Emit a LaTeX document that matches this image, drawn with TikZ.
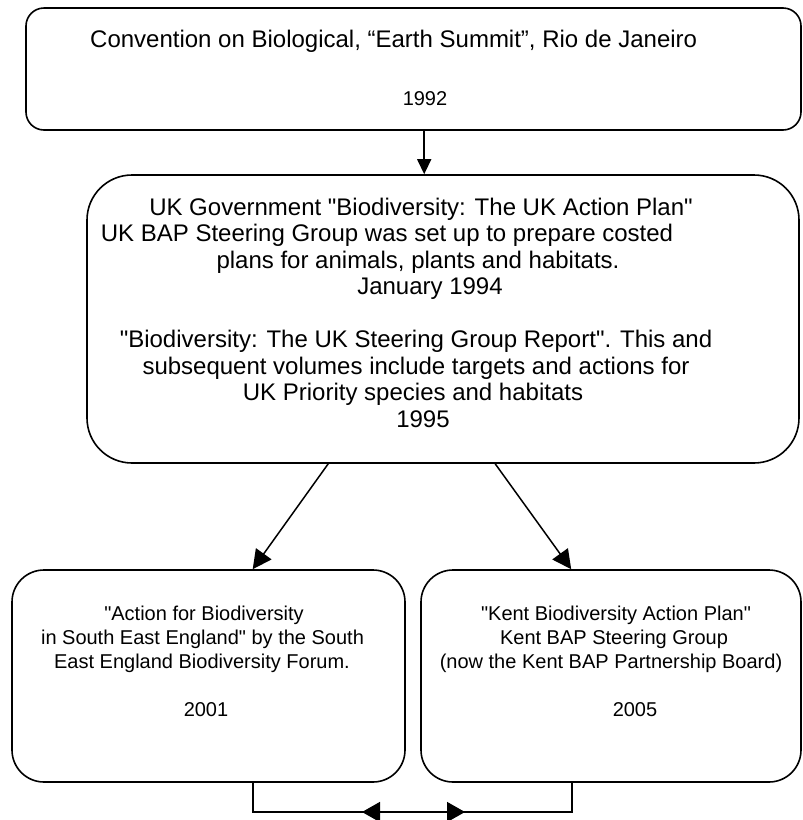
\documentclass[tikz,border=0pt]{standalone}
\usepackage{fontspec}
\newfontfamily\lib{Liberation Sans}
\usetikzlibrary{arrows.meta,calc}
\begin{document}
\begin{tikzpicture}[x=1pt,y=-1pt,
  box/.style={draw, line width=1.6pt, inner sep=0pt, fill=none},
  big/.style={inner sep=0pt, anchor=base, font=\lib\fontsize{24}{28}\selectfont},
  small/.style={inner sep=0pt, anchor=base, font=\lib\fontsize{20}{24}\selectfont},
  conn/.style={line width=1.5pt},
  arr/.style={line width=1.5pt, -{Triangle[length=19pt,width=19pt]}},
  tarr/.style={line width=1.5pt, -{Triangle[length=15pt,width=14pt]}},
  darr/.style={line width=1.5pt, {Triangle[length=18pt,width=20pt]}-{Triangle[length=18pt,width=20pt]}}]
\useasboundingbox (0,0) rectangle (803,820);
% boxes
\node[box, rounded corners=18pt, minimum width=775pt, minimum height=122pt] (top) at (413.5,69) {};
\node[box, rounded corners=45pt, minimum width=712pt, minimum height=288pt] (mid) at (443,319) {};
\node[box, rounded corners=32pt, minimum width=393pt, minimum height=212pt] (left) at (208.5,676) {};
\node[box, rounded corners=32pt, minimum width=380pt, minimum height=212pt] (right) at (611,676) {};
% top texts
\node[big, anchor=base west] (t1) at (90,47) {Convention on Biological, “Earth Summit”, Rio de Janeiro};
\node[small] (t2) at (425,105) {1992};
% middle texts
\node[big] (m1) at (421,215) {UK Government "Biodiversity: The UK Action Plan"};
\node[big] (m2) at (387,241.5) {UK BAP Steering Group was set up to prepare costed};
\node[big] (m3) at (418,268) {plans for animals, plants and habitats.};
\node[big] (m4) at (430,294.5) {January 1994};
\node[big] (m5) at (416,347.5) {"Biodiversity: The UK Steering Group Report". This and};
\node[big] (m6) at (416,374) {subsequent volumes include targets and actions for};
\node[big] (m7) at (413,400.5) {UK Priority species and habitats};
\node[big] (m8) at (423,427) {1995};
% left texts
\node[small] (l1) at (204,620) {"Action for Biodiversity};
\node[small] (l2) at (202.5,644) {in South East England" by the South};
\node[small] (l3) at (202,668) {East England Biodiversity Forum.};
\node[small] (l4) at (206,716) {2001};
% right texts
\node[small] (r1) at (616,620) {"Kent Biodiversity Action Plan"};
\node[small] (r2) at (614,644) {Kent BAP Steering Group};
\node[small] (r3) at (611,668) {(now the Kent BAP Partnership Board)};
\node[small] (r4) at (635,716) {2005};
% connectors
\draw[tarr] ($(top.south west)+(399,0)$) -- ($(mid.north west)+(338,0)$);
\draw[arr] ($(mid.south west)+(242,0)$) -- ($(left.north west)+(241.5,0)$);
\draw[arr] ($(mid.south west)+(409,0)$) -- ($(right.north west)+(151,0)$);
\coordinate (bl) at (253,812);
\coordinate (br) at (572,812);
\coordinate (al) at (362,812);
\coordinate (ar) at (465,812);
\draw[conn] (left.south -| bl) -- (bl) -- (br) -- (right.south -| br);
\draw[darr] (al) -- (ar);
\end{tikzpicture}
\end{document}
